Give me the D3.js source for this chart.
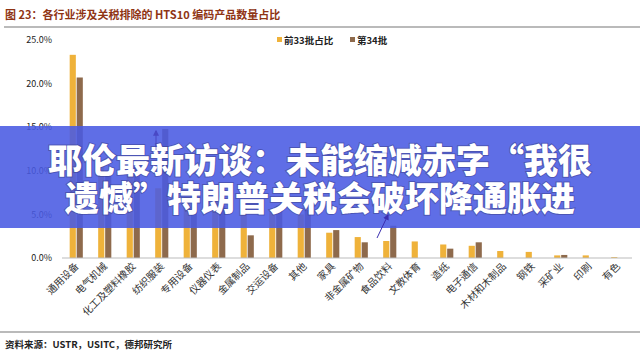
<!DOCTYPE html>
<html>
<head>
<meta charset="utf-8">
<script src="https://cdn.jsdelivr.net/npm/d3@7"></script>
<style>
  body { margin: 0; background: #fff; }
  svg { display: block; font-family: "Noto Sans CJK SC", "Noto Sans", sans-serif; }
</style>
</head>
<body>
<svg id="chart" width="640" height="354"></svg>
<script>
// data (percent)
const categories = ["通用设备", "电气机械", "化工及塑料橡胶", "纺织服装", "专用设备", "仪器仪表", "金属制品", "交运设备", "其他", "家具",
  "非金属矿物", "食品饮料", "文教体育", "造纸", "电子通信", "木材和木制品", "钢铁", "采矿业", "印刷", "有色"];
const first33 = [23.3, 10.5, 10.0, 8.0, 7.0, 6.5, 6.0, 5.5, 5.0, 2.9, 2.4, 1.95, 1.9, 1.55, 1.4, 0.8, 0.7, 0.3, 0.3, 0.1];
const batch34 = [20.7, 10.0, 10.5, 14.8, 7.5, 6.0, 2.6, 6.0, 5.5, 3.2, 1.8, 3.7, 0, 1.07, 1.8, 0, 0, 0.35, 0, 0];
const seriesNames = ["前33批占比", "第34批"];
const yTicks = [0, 5, 10, 15, 20, 25];

const colors = ["#efb23a", "#8e6a4c"];
const svg = d3.select("#chart");

// title + rules
svg.append("text")
  .attr("x", 5).attr("y", 19)
  .attr("font-size", 11).attr("font-weight", "bold")
  .attr("fill", "#8f3414")
  .text("图 23：各行业涉及关税排除的 HTS10 编码产品数量占比");
svg.append("line").attr("x1", 4).attr("x2", 640).attr("y1", 27).attr("y2", 27)
  .attr("stroke", "#777").attr("stroke-width", 1.2);
svg.append("line").attr("x1", 0).attr("x2", 640).attr("y1", 332).attr("y2", 332)
  .attr("stroke", "#777").attr("stroke-width", 1.2);
svg.append("text")
  .attr("x", 5).attr("y", 348)
  .attr("font-size", 9.5).attr("font-weight", "bold").attr("fill", "#222")
  .text("资料来源：USTR，USITC，德邦研究所");

// scales
const x0 = d3.scaleBand().domain(categories).range([62, 632]).paddingInner(0.48).paddingOuter(0.24);
const x1 = d3.scaleBand().domain([0, 1]).range([0, x0.bandwidth()]).padding(0.12);
const y = d3.scaleLinear().domain([0, 25]).range([258, 40]);

// y labels
svg.append("g").selectAll("text")
  .data(yTicks).enter().append("text")
  .attr("x", 52).attr("y", d => y(d))
  .attr("dy", "0.35em")
  .attr("text-anchor", "end")
  .attr("font-size", 9).attr("fill", "#222")
  .text(d => d.toFixed(1) + "%");

// bars
const rows = categories.map((c, i) => ({ c, v: [first33[i], batch34[i]] }));
const grp = svg.append("g").selectAll("g")
  .data(rows).enter().append("g")
  .attr("transform", d => `translate(${x0(d.c)},0)`);
grp.selectAll("rect")
  .data(d => d.v.map((v, k) => ({ v, k })))
  .enter().append("rect")
  .attr("x", d => x1(d.k))
  .attr("width", x1.bandwidth())
  .attr("y", d => y(d.v))
  .attr("height", d => y(0) - y(d.v))
  .attr("fill", d => colors[d.k]);

// baseline
svg.append("line").attr("x1", 62).attr("x2", 632).attr("y1", y(0)).attr("y2", y(0))
  .attr("stroke", "#bbb").attr("stroke-width", 1);

// x labels
svg.append("g").selectAll("text")
  .data(categories).enter().append("text")
  .attr("transform", d => `translate(${x0(d) + x0.bandwidth() / 2 + 3},${y(0) + 9}) rotate(-45)`)
  .attr("text-anchor", "end")
  .attr("font-size", 10).attr("fill", "#333")
  .text(d => d);

// legend
const leg = svg.append("g").attr("font-size", 9.5).attr("font-weight", "bold").attr("fill", "#222");
const legX = [277, 350];
seriesNames.forEach((s, i) => {
  leg.append("rect").attr("x", legX[i]).attr("y", 37).attr("width", 5).attr("height", 5).attr("fill", colors[i]);
  leg.append("text").attr("x", legX[i] + 7).attr("y", 43.5).text(s);
});

// overlay banner
svg.append("rect").attr("x", 0).attr("y", 126).attr("width", 640).attr("height", 102)
  .attr("fill", "rgba(73,90,226,0.88)");
const banner = ["耶伦最新访谈：未能缩减赤字“我很", "遗憾”特朗普关税会破坏降通胀进"];
svg.append("g").selectAll("text")
  .data(banner).enter().append("text")
  .attr("x", 320).attr("y", (d, i) => 173 + i * 38)
  .attr("text-anchor", "middle")
  .attr("font-size", 34).attr("font-weight", 900)
  .attr("fill", "#fff")
  .style("paint-order", "stroke")
  .attr("stroke", "rgba(40,40,90,0.35)").attr("stroke-width", 2)
  .text(d => d);

// annotation arrows
const defs = svg.append("defs");
defs.append("marker").attr("id", "ah").attr("viewBox", "0 0 10 10")
  .attr("refX", 8).attr("refY", 5).attr("markerWidth", 6).attr("markerHeight", 6)
  .attr("orient", "auto")
  .append("path").attr("d", "M0,0L10,5L0,10z").attr("fill", "#3b2fb0");
svg.append("line").attr("x1", 156).attr("y1", 150).attr("x2", 156).attr("y2", 131)
  .attr("stroke", "#3b2fb0").attr("stroke-width", 1).attr("marker-end", "url(#ah)").attr("opacity", 0.6);
svg.append("line").attr("x1", 377).attr("y1", 238).attr("x2", 388).attr("y2", 215)
  .attr("stroke", "#3b2fb0").attr("stroke-width", 1).attr("marker-end", "url(#ah)");
</script>
</body>
</html>
